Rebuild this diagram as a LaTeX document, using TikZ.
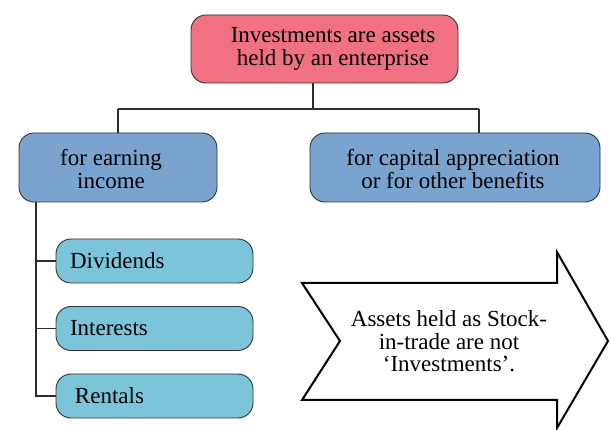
\documentclass[tikz,border=0pt]{standalone}
\usepackage{fontspec}
\setmainfont{Liberation Serif}
\definecolor{pinkc}{RGB}{240,114,130}
\definecolor{bluec}{RGB}{123,163,207}
\definecolor{cyanc}{RGB}{124,196,217}
\definecolor{bordc}{RGB}{50,50,50}
\definecolor{connc}{RGB}{45,45,45}
\begin{document}
\begin{tikzpicture}[x=1pt,y=-1pt,
  box/.style={draw=bordc, line width=0.9pt, rounded corners=15pt, inner sep=0pt},
  sub/.style={box, fill=cyanc, minimum width=197pt, minimum height=44pt, text width=169pt, align=left, font=\fontsize{23}{23}\selectfont},
  conn/.style={draw=connc, line width=1.3pt},
  txt/.style={align=center, font=\fontsize{23}{23}\selectfont, inner sep=0pt}]
\useasboundingbox (0,0) rectangle (611,430);
% top box
\node[box, fill=pinkc, minimum width=267pt, minimum height=68pt] (top) at (324.5,49) {};
\node[txt] (toptext) at (333,48.5) {Investments are assets\\held by an enterprise};
% second level
\node[box, fill=bluec, minimum width=198pt, minimum height=69pt] (lb) at (118,167.5) {};
\node[txt] (lbtext) at (111,169) {for earning\\income};
\node[box, fill=bluec, minimum width=290pt, minimum height=69pt] (rb) at (455,167.5) {};
\node[txt] (rbtext) at (453,169) {for capital appreciation\\or for other benefits};
% sub boxes
\node[sub] (d1) at (154.5,261) {Dividends};
\node[sub] (d2) at (154.5,328.5) {Interests};
\node[sub] (r3) at (154.5,396) {\hspace*{5pt}Rentals};
% connectors
\coordinate (ja) at (313,109);
\coordinate (jl) at (118,109);
\coordinate (jr) at (479,109);
\draw[conn] (top.south -| ja) -- (ja);
\draw[conn] (jl) -- (jr);
\draw[conn] (jl) -- (jl |- lb.north);
\draw[conn] (jr) -- (jr |- rb.north);
\coordinate (sp) at (36,0);
\draw[conn] (lb.south -| sp) -- (sp |- r3.west) -- (r3.west);
\draw[conn] (sp |- d1.west) -- (d1.west);
\draw[conn] (sp |- d2.west) -- (d2.west);
% arrow
\draw[line width=2pt, fill=white, line join=miter]
  (302,283) -- (557,283) -- (557,252) -- (608,341) -- (557,428) -- (557,400) -- (302,400) -- (340,341) -- cycle;
\node[txt, font=\fontsize{23}{22.5}\selectfont] (arrtext) at (449,341.5) {Assets held as Stock-\\in-trade are not\\‘Investments’.};
\end{tikzpicture}
\end{document}
